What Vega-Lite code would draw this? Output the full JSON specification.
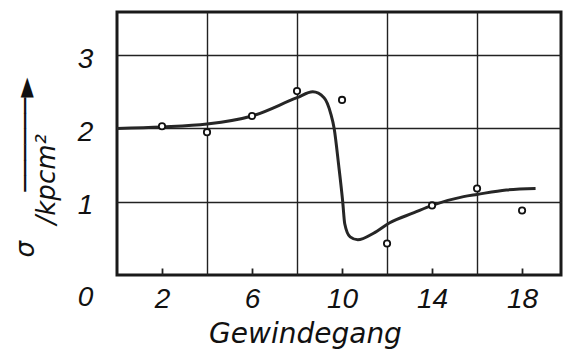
{
  "$schema": "https://vega.github.io/schema/vega-lite/v6.json",
  "width": 444,
  "height": 263,
  "autosize": {"type": "none"},
  "padding": {"left": 117, "top": 12, "right": 3, "bottom": 76},
  "background": "white",
  "config": {
    "view": {"stroke": "#1a1a1a", "strokeWidth": 3},
    "axis": {
      "domain": false,
      "gridColor": "#222222",
      "gridWidth": 1.4,
      "labelColor": "#111111",
      "labelFont": "Liberation Sans",
      "labelFontSize": 28,
      "labelFontStyle": "italic",
      "labelOverlap": false,
      "labelBound": false,
      "labelFlush": false,
      "titleColor": "#111111",
      "titleFont": "DejaVu Sans",
      "titleFontStyle": "italic",
      "titleFontWeight": "normal"
    }
  },
  "layer": [
    {
      "data": {
        "values": [
          {"gang": 0, "sigma": 2.0},
          {"gang": 2, "sigma": 2.02},
          {"gang": 4, "sigma": 2.06},
          {"gang": 6, "sigma": 2.17},
          {"gang": 8, "sigma": 2.42},
          {"gang": 8.7, "sigma": 2.5},
          {"gang": 9.2, "sigma": 2.42},
          {"gang": 9.5, "sigma": 2.2},
          {"gang": 9.65, "sigma": 2.0},
          {"gang": 9.85, "sigma": 1.5},
          {"gang": 10.03, "sigma": 1.0},
          {"gang": 10.12, "sigma": 0.7},
          {"gang": 10.36, "sigma": 0.52},
          {"gang": 10.7, "sigma": 0.48},
          {"gang": 11.4, "sigma": 0.57},
          {"gang": 12.1, "sigma": 0.71},
          {"gang": 13.2, "sigma": 0.85},
          {"gang": 14, "sigma": 0.95},
          {"gang": 15.4, "sigma": 1.07},
          {"gang": 16, "sigma": 1.1},
          {"gang": 17.3, "sigma": 1.16},
          {"gang": 18.6, "sigma": 1.18}
        ]
      },
      "mark": {"type": "line", "interpolate": "monotone", "color": "#262626", "strokeWidth": 3},
      "encoding": {
        "x": {
          "field": "gang",
          "type": "quantitative",
          "scale": {"domain": [0, 19.73], "nice": false, "zero": false},
          "axis": {
            "values": [2, 4, 6, 8, 10, 12, 14, 16, 18],
            "labelExpr": "datum.value % 4 == 2 ? datum.label : ''",
            "grid": true,
            "gridOpacity": {"condition": {"test": "datum.value % 4 == 0", "value": 1}, "value": 0},
            "ticks": true,
            "tickSize": -7,
            "tickColor": "#222222",
            "tickWidth": 1.8,
            "tickOpacity": {"condition": {"test": "datum.value % 4 == 2", "value": 1}, "value": 0},
            "labelAlign": "center",
            "labelBaseline": "top",
            "labelPadding": 17,
            "title": "Gewindegang",
            "titleFontSize": 28,
            "titleX": 188,
            "titleY": 67,
            "titleAlign": "center",
            "titleBaseline": "alphabetic"
          }
        },
        "y": {
          "field": "sigma",
          "type": "quantitative",
          "scale": {"domain": [0, 3.59], "nice": false},
          "axis": {
            "values": [0, 1, 2, 3],
            "format": "d",
            "grid": true,
            "gridOpacity": {"condition": {"test": "datum.value > 0", "value": 1}, "value": 0},
            "ticks": false,
            "tickSize": 0,
            "labelAlign": "center",
            "labelBaseline": "middle",
            "labelPadding": 32,
            "labelOffset": {"condition": {"test": "datum.value == 0", "value": 22}, "value": 4},
            "title": ["σ\u00a0\u00a0\u00a0\u00a0\u00a0\u00a0──────►", "\u200b\u00a0\u00a0\u00a0\u00a0/kpcm²"],
            "titleFontSize": 26,
            "titleLineHeight": 21,
            "titleAngle": -90,
            "titleAlign": "left",
            "titleBaseline": "alphabetic",
            "titleX": -84,
            "titleY": 245
          }
        }
      }
    },
    {
      "data": {
        "values": [
          {"gang": 2, "sigma": 2.03},
          {"gang": 4, "sigma": 1.95},
          {"gang": 6, "sigma": 2.17},
          {"gang": 8, "sigma": 2.51},
          {"gang": 10, "sigma": 2.39},
          {"gang": 12, "sigma": 0.43},
          {"gang": 14, "sigma": 0.95},
          {"gang": 16, "sigma": 1.18},
          {"gang": 18, "sigma": 0.88}
        ]
      },
      "mark": {"type": "point", "shape": "circle", "filled": true, "fill": "white", "stroke": "#111111", "strokeWidth": 1.8, "size": 40, "opacity": 1},
      "encoding": {
        "x": {"field": "gang", "type": "quantitative"},
        "y": {"field": "sigma", "type": "quantitative"}
      }
    }
  ]
}
